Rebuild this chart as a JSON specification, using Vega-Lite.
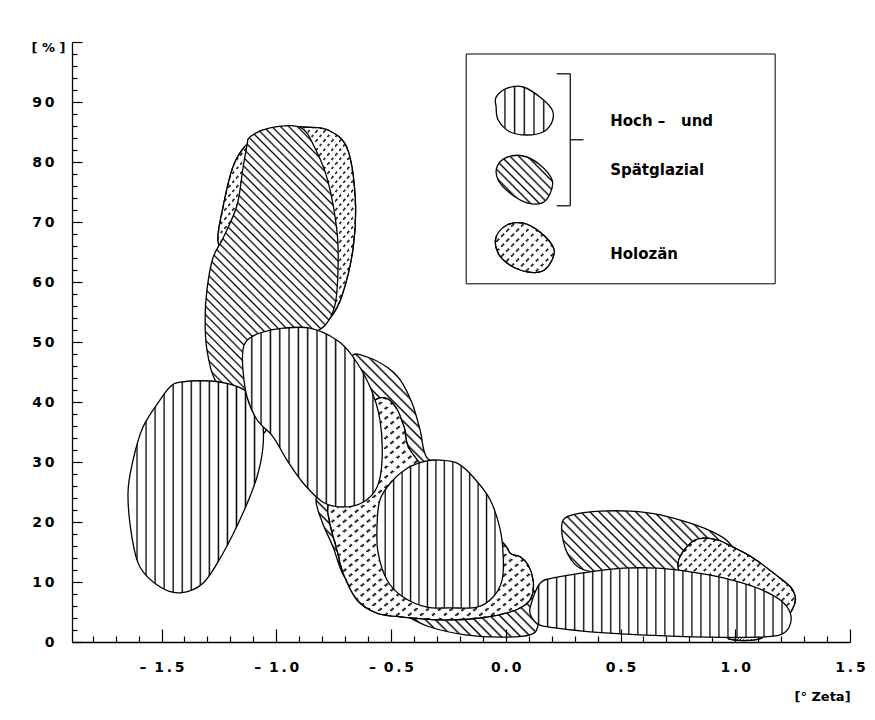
{
"$schema": "https://vega.github.io/schema/vega-lite/v6.json",
"width": 778, "height": 600,
"autosize": {"type": "none"},
"padding": {"left": 72, "top": 42, "right": 25, "bottom": 78},
"background": "white",
"config": {"view": {"stroke": null}, "axis": {"grid": false, "labelFont": "DejaVu Sans", "labelFontWeight": "bold", "labelColor": "#000", "labelFontSize": 14, "domainColor": "#000", "tickColor": "#000", "titleFont": "DejaVu Sans", "titleFontWeight": "bold", "titleColor": "#000", "titleFontSize": 13}},
"datasets": {
"poly": [
{"id":"H1","i":0,"x":-1.193,"y":78.7},{"id":"H1","i":1,"x":-1.149,"y":82.0},{"id":"H1","i":2,"x":-1.092,"y":84.0},{"id":"H1","i":3,"x":-0.983,"y":85.8},{"id":"H1","i":4,"x":-0.874,"y":85.8},{"id":"H1","i":5,"x":-0.774,"y":85.3},{"id":"H1","i":6,"x":-0.691,"y":82.3},{"id":"H1","i":7,"x":-0.656,"y":74.0},{"id":"H1","i":8,"x":-0.665,"y":65.7},{"id":"H1","i":9,"x":-0.713,"y":57.8},{"id":"H1","i":10,"x":-0.765,"y":54.0},{"id":"H1","i":11,"x":-0.831,"y":52.0},{"id":"H1","i":12,"x":-0.940,"y":52.0},{"id":"H1","i":13,"x":-1.114,"y":58.7},{"id":"H1","i":14,"x":-1.223,"y":63.3},{"id":"H1","i":15,"x":-1.254,"y":67.0},{"id":"H1","i":16,"x":-1.236,"y":71.7},
{"id":"P1","i":0,"x":-1.114,"y":84.2},{"id":"P1","i":1,"x":-1.027,"y":85.7},{"id":"P1","i":2,"x":-0.896,"y":85.8},{"id":"P1","i":3,"x":-0.831,"y":82.3},{"id":"P1","i":4,"x":-0.774,"y":76.7},{"id":"P1","i":5,"x":-0.735,"y":68.3},{"id":"P1","i":6,"x":-0.731,"y":61.7},{"id":"P1","i":7,"x":-0.744,"y":56.2},{"id":"P1","i":8,"x":-0.787,"y":52.8},{"id":"P1","i":9,"x":-0.896,"y":49.5},{"id":"P1","i":10,"x":-1.005,"y":40.3},{"id":"P1","i":11,"x":-1.049,"y":35.0},{"id":"P1","i":12,"x":-1.092,"y":36.2},{"id":"P1","i":13,"x":-1.180,"y":40.3},{"id":"P1","i":14,"x":-1.267,"y":43.7},{"id":"P1","i":15,"x":-1.302,"y":48.7},{"id":"P1","i":16,"x":-1.310,"y":53.7},{"id":"P1","i":17,"x":-1.302,"y":58.7},{"id":"P1","i":18,"x":-1.276,"y":64.0},{"id":"P1","i":19,"x":-1.232,"y":67.3},{"id":"P1","i":20,"x":-1.171,"y":72.8},{"id":"P1","i":21,"x":-1.145,"y":79.0},{"id":"P1","i":22,"x":-1.127,"y":82.8},
{"id":"P2","i":0,"x":-0.670,"y":47.7},{"id":"P2","i":1,"x":-0.604,"y":47.5},{"id":"P2","i":2,"x":-0.517,"y":45.8},{"id":"P2","i":3,"x":-0.460,"y":43.7},{"id":"P2","i":4,"x":-0.408,"y":39.8},{"id":"P2","i":5,"x":-0.373,"y":35.3},{"id":"P2","i":6,"x":-0.343,"y":30.7},{"id":"P2","i":7,"x":-0.242,"y":28.7},{"id":"P2","i":8,"x":-0.111,"y":18.7},{"id":"P2","i":9,"x":0.041,"y":12.0},{"id":"P2","i":10,"x":0.150,"y":7.0},{"id":"P2","i":11,"x":0.141,"y":2.8},{"id":"P2","i":12,"x":0.106,"y":1.2},{"id":"P2","i":13,"x":-0.024,"y":0.8},{"id":"P2","i":14,"x":-0.177,"y":1.2},{"id":"P2","i":15,"x":-0.330,"y":2.5},{"id":"P2","i":16,"x":-0.439,"y":4.5},{"id":"P2","i":17,"x":-0.591,"y":7.8},{"id":"P2","i":18,"x":-0.700,"y":10.7},{"id":"P2","i":19,"x":-0.752,"y":15.8},{"id":"P2","i":20,"x":-0.800,"y":20.0},{"id":"P2","i":21,"x":-0.827,"y":23.7},{"id":"P2","i":22,"x":-0.800,"y":27.3},{"id":"P2","i":23,"x":-0.722,"y":37.0},{"id":"P2","i":24,"x":-0.687,"y":43.7},
{"id":"H2","i":0,"x":-0.582,"y":39.5},{"id":"H2","i":1,"x":-0.526,"y":40.7},{"id":"H2","i":2,"x":-0.477,"y":39.0},{"id":"H2","i":3,"x":-0.442,"y":35.7},{"id":"H2","i":4,"x":-0.417,"y":32.0},{"id":"H2","i":5,"x":-0.286,"y":26.2},{"id":"H2","i":6,"x":-0.024,"y":17.0},{"id":"H2","i":7,"x":0.019,"y":14.8},{"id":"H2","i":8,"x":0.063,"y":14.2},{"id":"H2","i":9,"x":0.098,"y":12.8},{"id":"H2","i":10,"x":0.119,"y":10.3},{"id":"H2","i":11,"x":0.115,"y":7.8},{"id":"H2","i":12,"x":0.085,"y":6.2},{"id":"H2","i":13,"x":0.019,"y":5.0},{"id":"H2","i":14,"x":-0.112,"y":4.0},{"id":"H2","i":15,"x":-0.286,"y":3.7},{"id":"H2","i":16,"x":-0.460,"y":4.2},{"id":"H2","i":17,"x":-0.561,"y":4.8},{"id":"H2","i":18,"x":-0.648,"y":7.0},{"id":"H2","i":19,"x":-0.709,"y":11.5},{"id":"H2","i":20,"x":-0.735,"y":15.3},{"id":"H2","i":21,"x":-0.765,"y":19.5},{"id":"H2","i":22,"x":-0.774,"y":22.8},{"id":"H2","i":23,"x":-0.722,"y":23.7},{"id":"H2","i":24,"x":-0.635,"y":27.0},{"id":"H2","i":25,"x":-0.582,"y":33.7},
{"id":"P4","i":0,"x":0.250,"y":20.3},{"id":"P4","i":1,"x":0.303,"y":21.3},{"id":"P4","i":2,"x":0.412,"y":21.8},{"id":"P4","i":3,"x":0.542,"y":21.8},{"id":"P4","i":4,"x":0.673,"y":21.2},{"id":"P4","i":5,"x":0.804,"y":19.8},{"id":"P4","i":6,"x":0.904,"y":18.3},{"id":"P4","i":7,"x":0.969,"y":16.7},{"id":"P4","i":8,"x":1.000,"y":14.5},{"id":"P4","i":9,"x":0.935,"y":12.3},{"id":"P4","i":10,"x":0.804,"y":11.2},{"id":"P4","i":11,"x":0.586,"y":11.2},{"id":"P4","i":12,"x":0.412,"y":11.5},{"id":"P4","i":13,"x":0.324,"y":12.3},{"id":"P4","i":14,"x":0.272,"y":14.5},{"id":"P4","i":15,"x":0.246,"y":17.8},
{"id":"H3","i":0,"x":0.813,"y":16.7},{"id":"H3","i":1,"x":0.861,"y":17.3},{"id":"H3","i":2,"x":0.922,"y":17.0},{"id":"H3","i":3,"x":0.991,"y":15.8},{"id":"H3","i":4,"x":1.078,"y":14.0},{"id":"H3","i":5,"x":1.166,"y":11.5},{"id":"H3","i":6,"x":1.240,"y":9.2},{"id":"H3","i":7,"x":1.262,"y":7.3},{"id":"H3","i":8,"x":1.253,"y":5.8},{"id":"H3","i":9,"x":1.227,"y":4.5},{"id":"H3","i":10,"x":1.153,"y":4.5},{"id":"H3","i":11,"x":0.935,"y":7.0},{"id":"H3","i":12,"x":0.782,"y":10.3},{"id":"H3","i":13,"x":0.752,"y":12.3},{"id":"H3","i":14,"x":0.760,"y":14.3},
{"id":"HS","i":0,"x":0.970,"y":0.7},{"id":"HS","i":1,"x":1.044,"y":1.3},{"id":"HS","i":2,"x":1.118,"y":0.8},{"id":"HS","i":3,"x":1.074,"y":0.3},{"id":"HS","i":4,"x":1.000,"y":0.3},
{"id":"V1","i":0,"x":-1.419,"y":43.3},{"id":"V1","i":1,"x":-1.289,"y":43.5},{"id":"V1","i":2,"x":-1.188,"y":42.8},{"id":"V1","i":3,"x":-1.114,"y":41.2},{"id":"V1","i":4,"x":-1.062,"y":37.0},{"id":"V1","i":5,"x":-1.058,"y":32.5},{"id":"V1","i":6,"x":-1.084,"y":27.5},{"id":"V1","i":7,"x":-1.145,"y":21.5},{"id":"V1","i":8,"x":-1.232,"y":14.8},{"id":"V1","i":9,"x":-1.319,"y":9.8},{"id":"V1","i":10,"x":-1.419,"y":8.2},{"id":"V1","i":11,"x":-1.507,"y":9.2},{"id":"V1","i":12,"x":-1.594,"y":12.5},{"id":"V1","i":13,"x":-1.629,"y":17.5},{"id":"V1","i":14,"x":-1.646,"y":24.8},{"id":"V1","i":15,"x":-1.624,"y":30.3},{"id":"V1","i":16,"x":-1.581,"y":35.8},{"id":"V1","i":17,"x":-1.507,"y":40.3},{"id":"V1","i":18,"x":-1.463,"y":42.5},
{"id":"V2","i":0,"x":-1.145,"y":48.7},{"id":"V2","i":1,"x":-1.127,"y":50.3},{"id":"V2","i":2,"x":-1.071,"y":51.5},{"id":"V2","i":3,"x":-0.970,"y":52.3},{"id":"V2","i":4,"x":-0.853,"y":52.3},{"id":"V2","i":5,"x":-0.735,"y":50.3},{"id":"V2","i":6,"x":-0.665,"y":47.5},{"id":"V2","i":7,"x":-0.591,"y":42.5},{"id":"V2","i":8,"x":-0.548,"y":37.0},{"id":"V2","i":9,"x":-0.539,"y":30.3},{"id":"V2","i":10,"x":-0.561,"y":25.8},{"id":"V2","i":11,"x":-0.622,"y":23.3},{"id":"V2","i":12,"x":-0.709,"y":22.5},{"id":"V2","i":13,"x":-0.796,"y":23.3},{"id":"V2","i":14,"x":-0.883,"y":26.5},{"id":"V2","i":15,"x":-0.953,"y":30.3},{"id":"V2","i":16,"x":-1.014,"y":34.2},{"id":"V2","i":17,"x":-1.083,"y":37.0},{"id":"V2","i":18,"x":-1.127,"y":40.8},{"id":"V2","i":19,"x":-1.145,"y":45.3},
{"id":"V3","i":0,"x":-0.286,"y":30.3},{"id":"V3","i":1,"x":-0.212,"y":29.8},{"id":"V3","i":2,"x":-0.142,"y":27.5},{"id":"V3","i":3,"x":-0.068,"y":23.7},{"id":"V3","i":4,"x":-0.024,"y":18.7},{"id":"V3","i":5,"x":-0.011,"y":14.2},{"id":"V3","i":6,"x":-0.016,"y":10.3},{"id":"V3","i":7,"x":-0.055,"y":7.5},{"id":"V3","i":8,"x":-0.125,"y":5.8},{"id":"V3","i":9,"x":-0.242,"y":5.7},{"id":"V3","i":10,"x":-0.343,"y":5.8},{"id":"V3","i":11,"x":-0.447,"y":7.5},{"id":"V3","i":12,"x":-0.517,"y":10.3},{"id":"V3","i":13,"x":-0.556,"y":14.8},{"id":"V3","i":14,"x":-0.561,"y":19.2},{"id":"V3","i":15,"x":-0.548,"y":23.7},{"id":"V3","i":16,"x":-0.491,"y":27.0},{"id":"V3","i":17,"x":-0.417,"y":29.2},{"id":"V3","i":18,"x":-0.343,"y":30.2},
{"id":"V4","i":0,"x":0.106,"y":5.7},{"id":"V4","i":1,"x":0.150,"y":9.8},{"id":"V4","i":2,"x":0.224,"y":10.8},{"id":"V4","i":3,"x":0.368,"y":11.7},{"id":"V4","i":4,"x":0.512,"y":12.3},{"id":"V4","i":5,"x":0.660,"y":12.3},{"id":"V4","i":6,"x":0.804,"y":11.7},{"id":"V4","i":7,"x":0.948,"y":10.7},{"id":"V4","i":8,"x":1.096,"y":9.0},{"id":"V4","i":9,"x":1.196,"y":7.0},{"id":"V4","i":10,"x":1.240,"y":4.8},{"id":"V4","i":11,"x":1.235,"y":2.5},{"id":"V4","i":12,"x":1.196,"y":1.2},{"id":"V4","i":13,"x":1.096,"y":0.8},{"id":"V4","i":14,"x":0.878,"y":0.8},{"id":"V4","i":15,"x":0.586,"y":1.2},{"id":"V4","i":16,"x":0.368,"y":1.7},{"id":"V4","i":17,"x":0.224,"y":2.3},{"id":"V4","i":18,"x":0.150,"y":2.8},{"id":"V4","i":19,"x":0.115,"y":4.0},
{"id":"LV","i":0,"x":-0.042,"y":90.8},{"id":"LV","i":1,"x":0.006,"y":92.3},{"id":"LV","i":2,"x":0.076,"y":92.5},{"id":"LV","i":3,"x":0.150,"y":90.8},{"id":"LV","i":4,"x":0.202,"y":88.7},{"id":"LV","i":5,"x":0.202,"y":86.7},{"id":"LV","i":6,"x":0.163,"y":85.0},{"id":"LV","i":7,"x":0.093,"y":84.5},{"id":"LV","i":8,"x":0.019,"y":85.0},{"id":"LV","i":9,"x":-0.033,"y":87.0},{"id":"LV","i":10,"x":-0.042,"y":89.2},
{"id":"LD","i":0,"x":-0.038,"y":79.2},{"id":"LD","i":1,"x":0.006,"y":80.8},{"id":"LD","i":2,"x":0.076,"y":81.0},{"id":"LD","i":3,"x":0.150,"y":79.5},{"id":"LD","i":4,"x":0.202,"y":77.0},{"id":"LD","i":5,"x":0.194,"y":74.8},{"id":"LD","i":6,"x":0.159,"y":73.2},{"id":"LD","i":7,"x":0.093,"y":73.2},{"id":"LD","i":8,"x":0.019,"y":74.8},{"id":"LD","i":9,"x":-0.033,"y":77.0},
{"id":"LH","i":0,"x":-0.042,"y":67.5},{"id":"LH","i":1,"x":0.006,"y":69.5},{"id":"LH","i":2,"x":0.076,"y":69.8},{"id":"LH","i":3,"x":0.150,"y":68.3},{"id":"LH","i":4,"x":0.207,"y":65.8},{"id":"LH","i":5,"x":0.202,"y":63.7},{"id":"LH","i":6,"x":0.159,"y":61.8},{"id":"LH","i":7,"x":0.093,"y":61.7},{"id":"LH","i":8,"x":0.019,"y":62.8},{"id":"LH","i":9,"x":-0.033,"y":64.8}
],
"box": [{"x":-0.1725,"x2":1.174,"y":98.0,"y2":59.7}],
"seg": [{"x":0.222,"y":94.7,"x2":0.281,"y2":94.7},{"x":0.281,"y":94.7,"x2":0.281,"y2":72.7},{"x":0.222,"y":72.7,"x2":0.281,"y2":72.7},{"x":0.281,"y":83.7,"x2":0.339,"y2":83.7}],
"txt": [{"x":0.455,"y":86.0,"t":"Hoch –\u00a0\u00a0\u00a0und"},{"x":0.455,"y":77.8,"t":"Spätglazial"},{"x":0.455,"y":63.8,"t":"Holozän"}]
},
"encoding": {
"x": {"field":"x","type":"quantitative","scale":{"domain":[-1.89,1.5],"nice":false,"zero":false},"axis":null},
"y": {"field":"y","type":"quantitative","scale":{"domain":[0,100],"nice":false,"zero":false},"axis":null}
},
"layer": [
{"data":{"name":"box"},
 "mark":{"type":"rect","fill":"#fff","stroke":"#000","strokeWidth":1},
 "encoding":{"x2":{"field":"x2"},"y2":{"field":"y2"}}},
{"data":{"name":"poly"},"transform":[{"filter":"datum.id == 'P2'"}],
 "mark":{"type":"line","interpolate":"cardinal-closed","stroke":"#000","strokeWidth":1.3,"fill":{"gradient":"linear","x1":0,"y1":1,"x2":0.876,"y2":-0.098,"stops":[
{"offset":0,"color":"#fff"},
{"offset":0.0152,"color":"#fff"},{"offset":0.0192,"color":"#000"},{"offset":0.0232,"color":"#fff"},
{"offset":0.0345,"color":"#fff"},{"offset":0.0385,"color":"#000"},{"offset":0.0425,"color":"#fff"},
{"offset":0.0537,"color":"#fff"},{"offset":0.0577,"color":"#000"},{"offset":0.0617,"color":"#fff"},
{"offset":0.0729,"color":"#fff"},{"offset":0.0769,"color":"#000"},{"offset":0.0809,"color":"#fff"},
{"offset":0.0922,"color":"#fff"},{"offset":0.0962,"color":"#000"},{"offset":0.1002,"color":"#fff"},
{"offset":0.1114,"color":"#fff"},{"offset":0.1154,"color":"#000"},{"offset":0.1194,"color":"#fff"},
{"offset":0.1306,"color":"#fff"},{"offset":0.1346,"color":"#000"},{"offset":0.1386,"color":"#fff"},
{"offset":0.1498,"color":"#fff"},{"offset":0.1538,"color":"#000"},{"offset":0.1578,"color":"#fff"},
{"offset":0.1691,"color":"#fff"},{"offset":0.1731,"color":"#000"},{"offset":0.1771,"color":"#fff"},
{"offset":0.1883,"color":"#fff"},{"offset":0.1923,"color":"#000"},{"offset":0.1963,"color":"#fff"},
{"offset":0.2075,"color":"#fff"},{"offset":0.2115,"color":"#000"},{"offset":0.2155,"color":"#fff"},
{"offset":0.2268,"color":"#fff"},{"offset":0.2308,"color":"#000"},{"offset":0.2348,"color":"#fff"},
{"offset":0.246,"color":"#fff"},{"offset":0.25,"color":"#000"},{"offset":0.254,"color":"#fff"},
{"offset":0.2652,"color":"#fff"},{"offset":0.2692,"color":"#000"},{"offset":0.2732,"color":"#fff"},
{"offset":0.2845,"color":"#fff"},{"offset":0.2885,"color":"#000"},{"offset":0.2925,"color":"#fff"},
{"offset":0.3037,"color":"#fff"},{"offset":0.3077,"color":"#000"},{"offset":0.3117,"color":"#fff"},
{"offset":0.3229,"color":"#fff"},{"offset":0.3269,"color":"#000"},{"offset":0.3309,"color":"#fff"},
{"offset":0.3422,"color":"#fff"},{"offset":0.3462,"color":"#000"},{"offset":0.3502,"color":"#fff"},
{"offset":0.3614,"color":"#fff"},{"offset":0.3654,"color":"#000"},{"offset":0.3694,"color":"#fff"},
{"offset":0.3806,"color":"#fff"},{"offset":0.3846,"color":"#000"},{"offset":0.3886,"color":"#fff"},
{"offset":0.3998,"color":"#fff"},{"offset":0.4038,"color":"#000"},{"offset":0.4078,"color":"#fff"},
{"offset":0.4191,"color":"#fff"},{"offset":0.4231,"color":"#000"},{"offset":0.4271,"color":"#fff"},
{"offset":0.4383,"color":"#fff"},{"offset":0.4423,"color":"#000"},{"offset":0.4463,"color":"#fff"},
{"offset":0.4575,"color":"#fff"},{"offset":0.4615,"color":"#000"},{"offset":0.4655,"color":"#fff"},
{"offset":0.4768,"color":"#fff"},{"offset":0.4808,"color":"#000"},{"offset":0.4848,"color":"#fff"},
{"offset":0.496,"color":"#fff"},{"offset":0.5,"color":"#000"},{"offset":0.504,"color":"#fff"},
{"offset":0.5152,"color":"#fff"},{"offset":0.5192,"color":"#000"},{"offset":0.5232,"color":"#fff"},
{"offset":0.5345,"color":"#fff"},{"offset":0.5385,"color":"#000"},{"offset":0.5425,"color":"#fff"},
{"offset":0.5537,"color":"#fff"},{"offset":0.5577,"color":"#000"},{"offset":0.5617,"color":"#fff"},
{"offset":0.5729,"color":"#fff"},{"offset":0.5769,"color":"#000"},{"offset":0.5809,"color":"#fff"},
{"offset":0.5922,"color":"#fff"},{"offset":0.5962,"color":"#000"},{"offset":0.6002,"color":"#fff"},
{"offset":0.6114,"color":"#fff"},{"offset":0.6154,"color":"#000"},{"offset":0.6194,"color":"#fff"},
{"offset":0.6306,"color":"#fff"},{"offset":0.6346,"color":"#000"},{"offset":0.6386,"color":"#fff"},
{"offset":0.6498,"color":"#fff"},{"offset":0.6538,"color":"#000"},{"offset":0.6578,"color":"#fff"},
{"offset":0.6691,"color":"#fff"},{"offset":0.6731,"color":"#000"},{"offset":0.6771,"color":"#fff"},
{"offset":0.6883,"color":"#fff"},{"offset":0.6923,"color":"#000"},{"offset":0.6963,"color":"#fff"},
{"offset":0.7075,"color":"#fff"},{"offset":0.7115,"color":"#000"},{"offset":0.7155,"color":"#fff"},
{"offset":0.7268,"color":"#fff"},{"offset":0.7308,"color":"#000"},{"offset":0.7348,"color":"#fff"},
{"offset":0.746,"color":"#fff"},{"offset":0.75,"color":"#000"},{"offset":0.754,"color":"#fff"},
{"offset":0.7652,"color":"#fff"},{"offset":0.7692,"color":"#000"},{"offset":0.7732,"color":"#fff"},
{"offset":0.7845,"color":"#fff"},{"offset":0.7885,"color":"#000"},{"offset":0.7925,"color":"#fff"},
{"offset":0.8037,"color":"#fff"},{"offset":0.8077,"color":"#000"},{"offset":0.8117,"color":"#fff"},
{"offset":0.8229,"color":"#fff"},{"offset":0.8269,"color":"#000"},{"offset":0.8309,"color":"#fff"},
{"offset":0.8422,"color":"#fff"},{"offset":0.8462,"color":"#000"},{"offset":0.8502,"color":"#fff"},
{"offset":0.8614,"color":"#fff"},{"offset":0.8654,"color":"#000"},{"offset":0.8694,"color":"#fff"},
{"offset":0.8806,"color":"#fff"},{"offset":0.8846,"color":"#000"},{"offset":0.8886,"color":"#fff"},
{"offset":0.8998,"color":"#fff"},{"offset":0.9038,"color":"#000"},{"offset":0.9078,"color":"#fff"},
{"offset":0.9191,"color":"#fff"},{"offset":0.9231,"color":"#000"},{"offset":0.9271,"color":"#fff"},
{"offset":0.9383,"color":"#fff"},{"offset":0.9423,"color":"#000"},{"offset":0.9463,"color":"#fff"},
{"offset":0.9575,"color":"#fff"},{"offset":0.9615,"color":"#000"},{"offset":0.9655,"color":"#fff"},
{"offset":0.9768,"color":"#fff"},{"offset":0.9808,"color":"#000"},{"offset":0.9848,"color":"#fff"},
{"offset":1,"color":"#fff"}]}},
 "encoding":{
  "x":{"field":"x","type":"quantitative","scale":{"domain":[-1.89,1.5],"nice":false,"zero":false},"axis":{"orient":"bottom","values":[-1.5,-1,-0.5,0,0.5,1,1.5],"ticks":false,"domain":true,"domainWidth":1.3,"labelPadding":18,"labelFlush":false,"labelOverlap":false,"labelExpr":"(datum.value < 0 ? '–\u2009 ' : '') + slice(format(abs(datum.value), '.1f'), 0, 1) + '\u2009.\u2009' + slice(format(abs(datum.value), '.1f'), 2)","title":"[° Zeta]","titleX":750,"titleY":54,"titleAlign":"center","titleBaseline":"middle","zindex":1}},
  "y":{"field":"y","type":"quantitative","scale":{"domain":[0,100],"nice":false,"zero":false},"axis":{"orient":"left","values":[0,10,20,30,40,50,60,70,80,90],"ticks":false,"domain":true,"domainWidth":1.3,"labelPadding":18,"labelFlush":false,"labelOverlap":false,"labelExpr":"length(datum.label) > 1 ? slice(datum.label, 0, 1) + '\u2009' + slice(datum.label, 1) : datum.label","title":"[ % ]","titleAngle":0,"titleX":-24,"titleY":5,"titleAlign":"center","titleBaseline":"middle","zindex":1}},
  "order":{"field":"i","type":"quantitative"}}},
{"data":{"name":"poly"},"transform":[{"filter":"datum.id == 'H1' || datum.id == 'H2'"}],
 "mark":{"type":"line","interpolate":"cardinal-closed","stroke":"#000","strokeWidth":1.3,"fill":{"gradient":"linear","x1":0,"y1":0,"x2":0.855,"y2":1.112,"stops":[
{"offset":0,"color":"#fff"},
{"offset":0.019,"color":"#fff"},{"offset":0.025,"color":"#000"},{"offset":0.031,"color":"#fff"},
{"offset":0.044,"color":"#fff"},{"offset":0.05,"color":"#000"},{"offset":0.056,"color":"#fff"},
{"offset":0.069,"color":"#fff"},{"offset":0.075,"color":"#000"},{"offset":0.081,"color":"#fff"},
{"offset":0.094,"color":"#fff"},{"offset":0.1,"color":"#000"},{"offset":0.106,"color":"#fff"},
{"offset":0.119,"color":"#fff"},{"offset":0.125,"color":"#000"},{"offset":0.131,"color":"#fff"},
{"offset":0.144,"color":"#fff"},{"offset":0.15,"color":"#000"},{"offset":0.156,"color":"#fff"},
{"offset":0.169,"color":"#fff"},{"offset":0.175,"color":"#000"},{"offset":0.181,"color":"#fff"},
{"offset":0.194,"color":"#fff"},{"offset":0.2,"color":"#000"},{"offset":0.206,"color":"#fff"},
{"offset":0.219,"color":"#fff"},{"offset":0.225,"color":"#000"},{"offset":0.231,"color":"#fff"},
{"offset":0.244,"color":"#fff"},{"offset":0.25,"color":"#000"},{"offset":0.256,"color":"#fff"},
{"offset":0.269,"color":"#fff"},{"offset":0.275,"color":"#000"},{"offset":0.281,"color":"#fff"},
{"offset":0.294,"color":"#fff"},{"offset":0.3,"color":"#000"},{"offset":0.306,"color":"#fff"},
{"offset":0.319,"color":"#fff"},{"offset":0.325,"color":"#000"},{"offset":0.331,"color":"#fff"},
{"offset":0.344,"color":"#fff"},{"offset":0.35,"color":"#000"},{"offset":0.356,"color":"#fff"},
{"offset":0.369,"color":"#fff"},{"offset":0.375,"color":"#000"},{"offset":0.381,"color":"#fff"},
{"offset":0.394,"color":"#fff"},{"offset":0.4,"color":"#000"},{"offset":0.406,"color":"#fff"},
{"offset":0.419,"color":"#fff"},{"offset":0.425,"color":"#000"},{"offset":0.431,"color":"#fff"},
{"offset":0.444,"color":"#fff"},{"offset":0.45,"color":"#000"},{"offset":0.456,"color":"#fff"},
{"offset":0.469,"color":"#fff"},{"offset":0.475,"color":"#000"},{"offset":0.481,"color":"#fff"},
{"offset":0.494,"color":"#fff"},{"offset":0.5,"color":"#000"},{"offset":0.506,"color":"#fff"},
{"offset":0.519,"color":"#fff"},{"offset":0.525,"color":"#000"},{"offset":0.531,"color":"#fff"},
{"offset":0.544,"color":"#fff"},{"offset":0.55,"color":"#000"},{"offset":0.556,"color":"#fff"},
{"offset":0.569,"color":"#fff"},{"offset":0.575,"color":"#000"},{"offset":0.581,"color":"#fff"},
{"offset":0.594,"color":"#fff"},{"offset":0.6,"color":"#000"},{"offset":0.606,"color":"#fff"},
{"offset":0.619,"color":"#fff"},{"offset":0.625,"color":"#000"},{"offset":0.631,"color":"#fff"},
{"offset":0.644,"color":"#fff"},{"offset":0.65,"color":"#000"},{"offset":0.656,"color":"#fff"},
{"offset":0.669,"color":"#fff"},{"offset":0.675,"color":"#000"},{"offset":0.681,"color":"#fff"},
{"offset":0.694,"color":"#fff"},{"offset":0.7,"color":"#000"},{"offset":0.706,"color":"#fff"},
{"offset":0.719,"color":"#fff"},{"offset":0.725,"color":"#000"},{"offset":0.731,"color":"#fff"},
{"offset":0.744,"color":"#fff"},{"offset":0.75,"color":"#000"},{"offset":0.756,"color":"#fff"},
{"offset":0.769,"color":"#fff"},{"offset":0.775,"color":"#000"},{"offset":0.781,"color":"#fff"},
{"offset":0.794,"color":"#fff"},{"offset":0.8,"color":"#000"},{"offset":0.806,"color":"#fff"},
{"offset":0.819,"color":"#fff"},{"offset":0.825,"color":"#000"},{"offset":0.831,"color":"#fff"},
{"offset":0.844,"color":"#fff"},{"offset":0.85,"color":"#000"},{"offset":0.856,"color":"#fff"},
{"offset":0.869,"color":"#fff"},{"offset":0.875,"color":"#000"},{"offset":0.881,"color":"#fff"},
{"offset":0.894,"color":"#fff"},{"offset":0.9,"color":"#000"},{"offset":0.906,"color":"#fff"},
{"offset":0.919,"color":"#fff"},{"offset":0.925,"color":"#000"},{"offset":0.931,"color":"#fff"},
{"offset":0.944,"color":"#fff"},{"offset":0.95,"color":"#000"},{"offset":0.956,"color":"#fff"},
{"offset":0.969,"color":"#fff"},{"offset":0.975,"color":"#000"},{"offset":0.981,"color":"#fff"},
{"offset":1,"color":"#fff"}]}},
 "encoding":{"detail":{"field":"id"},"order":{"field":"i","type":"quantitative"}}},
{"data":{"name":"poly"},"transform":[{"filter":"datum.id == 'H1' || datum.id == 'H2'"}],
 "mark":{"type":"line","interpolate":"cardinal-closed","stroke":"#000","strokeWidth":1.3,"fill":{"gradient":"linear","x1":0,"y1":1,"x2":0.855,"y2":-0.112,"stops":[
{"offset":0,"color":"rgba(255,255,255,0)"},
{"offset":0.019,"color":"rgba(255,255,255,0)"},{"offset":0.019,"color":"#fff"},{"offset":0.031,"color":"#fff"},{"offset":0.031,"color":"rgba(255,255,255,0)"},
{"offset":0.044,"color":"rgba(255,255,255,0)"},{"offset":0.044,"color":"#fff"},{"offset":0.056,"color":"#fff"},{"offset":0.056,"color":"rgba(255,255,255,0)"},
{"offset":0.069,"color":"rgba(255,255,255,0)"},{"offset":0.069,"color":"#fff"},{"offset":0.081,"color":"#fff"},{"offset":0.081,"color":"rgba(255,255,255,0)"},
{"offset":0.094,"color":"rgba(255,255,255,0)"},{"offset":0.094,"color":"#fff"},{"offset":0.106,"color":"#fff"},{"offset":0.106,"color":"rgba(255,255,255,0)"},
{"offset":0.119,"color":"rgba(255,255,255,0)"},{"offset":0.119,"color":"#fff"},{"offset":0.131,"color":"#fff"},{"offset":0.131,"color":"rgba(255,255,255,0)"},
{"offset":0.144,"color":"rgba(255,255,255,0)"},{"offset":0.144,"color":"#fff"},{"offset":0.156,"color":"#fff"},{"offset":0.156,"color":"rgba(255,255,255,0)"},
{"offset":0.169,"color":"rgba(255,255,255,0)"},{"offset":0.169,"color":"#fff"},{"offset":0.181,"color":"#fff"},{"offset":0.181,"color":"rgba(255,255,255,0)"},
{"offset":0.194,"color":"rgba(255,255,255,0)"},{"offset":0.194,"color":"#fff"},{"offset":0.206,"color":"#fff"},{"offset":0.206,"color":"rgba(255,255,255,0)"},
{"offset":0.219,"color":"rgba(255,255,255,0)"},{"offset":0.219,"color":"#fff"},{"offset":0.231,"color":"#fff"},{"offset":0.231,"color":"rgba(255,255,255,0)"},
{"offset":0.244,"color":"rgba(255,255,255,0)"},{"offset":0.244,"color":"#fff"},{"offset":0.256,"color":"#fff"},{"offset":0.256,"color":"rgba(255,255,255,0)"},
{"offset":0.269,"color":"rgba(255,255,255,0)"},{"offset":0.269,"color":"#fff"},{"offset":0.281,"color":"#fff"},{"offset":0.281,"color":"rgba(255,255,255,0)"},
{"offset":0.294,"color":"rgba(255,255,255,0)"},{"offset":0.294,"color":"#fff"},{"offset":0.306,"color":"#fff"},{"offset":0.306,"color":"rgba(255,255,255,0)"},
{"offset":0.319,"color":"rgba(255,255,255,0)"},{"offset":0.319,"color":"#fff"},{"offset":0.331,"color":"#fff"},{"offset":0.331,"color":"rgba(255,255,255,0)"},
{"offset":0.344,"color":"rgba(255,255,255,0)"},{"offset":0.344,"color":"#fff"},{"offset":0.356,"color":"#fff"},{"offset":0.356,"color":"rgba(255,255,255,0)"},
{"offset":0.369,"color":"rgba(255,255,255,0)"},{"offset":0.369,"color":"#fff"},{"offset":0.381,"color":"#fff"},{"offset":0.381,"color":"rgba(255,255,255,0)"},
{"offset":0.394,"color":"rgba(255,255,255,0)"},{"offset":0.394,"color":"#fff"},{"offset":0.406,"color":"#fff"},{"offset":0.406,"color":"rgba(255,255,255,0)"},
{"offset":0.419,"color":"rgba(255,255,255,0)"},{"offset":0.419,"color":"#fff"},{"offset":0.431,"color":"#fff"},{"offset":0.431,"color":"rgba(255,255,255,0)"},
{"offset":0.444,"color":"rgba(255,255,255,0)"},{"offset":0.444,"color":"#fff"},{"offset":0.456,"color":"#fff"},{"offset":0.456,"color":"rgba(255,255,255,0)"},
{"offset":0.469,"color":"rgba(255,255,255,0)"},{"offset":0.469,"color":"#fff"},{"offset":0.481,"color":"#fff"},{"offset":0.481,"color":"rgba(255,255,255,0)"},
{"offset":0.494,"color":"rgba(255,255,255,0)"},{"offset":0.494,"color":"#fff"},{"offset":0.506,"color":"#fff"},{"offset":0.506,"color":"rgba(255,255,255,0)"},
{"offset":0.519,"color":"rgba(255,255,255,0)"},{"offset":0.519,"color":"#fff"},{"offset":0.531,"color":"#fff"},{"offset":0.531,"color":"rgba(255,255,255,0)"},
{"offset":0.544,"color":"rgba(255,255,255,0)"},{"offset":0.544,"color":"#fff"},{"offset":0.556,"color":"#fff"},{"offset":0.556,"color":"rgba(255,255,255,0)"},
{"offset":0.569,"color":"rgba(255,255,255,0)"},{"offset":0.569,"color":"#fff"},{"offset":0.581,"color":"#fff"},{"offset":0.581,"color":"rgba(255,255,255,0)"},
{"offset":0.594,"color":"rgba(255,255,255,0)"},{"offset":0.594,"color":"#fff"},{"offset":0.606,"color":"#fff"},{"offset":0.606,"color":"rgba(255,255,255,0)"},
{"offset":0.619,"color":"rgba(255,255,255,0)"},{"offset":0.619,"color":"#fff"},{"offset":0.631,"color":"#fff"},{"offset":0.631,"color":"rgba(255,255,255,0)"},
{"offset":0.644,"color":"rgba(255,255,255,0)"},{"offset":0.644,"color":"#fff"},{"offset":0.656,"color":"#fff"},{"offset":0.656,"color":"rgba(255,255,255,0)"},
{"offset":0.669,"color":"rgba(255,255,255,0)"},{"offset":0.669,"color":"#fff"},{"offset":0.681,"color":"#fff"},{"offset":0.681,"color":"rgba(255,255,255,0)"},
{"offset":0.694,"color":"rgba(255,255,255,0)"},{"offset":0.694,"color":"#fff"},{"offset":0.706,"color":"#fff"},{"offset":0.706,"color":"rgba(255,255,255,0)"},
{"offset":0.719,"color":"rgba(255,255,255,0)"},{"offset":0.719,"color":"#fff"},{"offset":0.731,"color":"#fff"},{"offset":0.731,"color":"rgba(255,255,255,0)"},
{"offset":0.744,"color":"rgba(255,255,255,0)"},{"offset":0.744,"color":"#fff"},{"offset":0.756,"color":"#fff"},{"offset":0.756,"color":"rgba(255,255,255,0)"},
{"offset":0.769,"color":"rgba(255,255,255,0)"},{"offset":0.769,"color":"#fff"},{"offset":0.781,"color":"#fff"},{"offset":0.781,"color":"rgba(255,255,255,0)"},
{"offset":0.794,"color":"rgba(255,255,255,0)"},{"offset":0.794,"color":"#fff"},{"offset":0.806,"color":"#fff"},{"offset":0.806,"color":"rgba(255,255,255,0)"},
{"offset":0.819,"color":"rgba(255,255,255,0)"},{"offset":0.819,"color":"#fff"},{"offset":0.831,"color":"#fff"},{"offset":0.831,"color":"rgba(255,255,255,0)"},
{"offset":0.844,"color":"rgba(255,255,255,0)"},{"offset":0.844,"color":"#fff"},{"offset":0.856,"color":"#fff"},{"offset":0.856,"color":"rgba(255,255,255,0)"},
{"offset":0.869,"color":"rgba(255,255,255,0)"},{"offset":0.869,"color":"#fff"},{"offset":0.881,"color":"#fff"},{"offset":0.881,"color":"rgba(255,255,255,0)"},
{"offset":0.894,"color":"rgba(255,255,255,0)"},{"offset":0.894,"color":"#fff"},{"offset":0.906,"color":"#fff"},{"offset":0.906,"color":"rgba(255,255,255,0)"},
{"offset":0.919,"color":"rgba(255,255,255,0)"},{"offset":0.919,"color":"#fff"},{"offset":0.931,"color":"#fff"},{"offset":0.931,"color":"rgba(255,255,255,0)"},
{"offset":0.944,"color":"rgba(255,255,255,0)"},{"offset":0.944,"color":"#fff"},{"offset":0.956,"color":"#fff"},{"offset":0.956,"color":"rgba(255,255,255,0)"},
{"offset":0.969,"color":"rgba(255,255,255,0)"},{"offset":0.969,"color":"#fff"},{"offset":0.981,"color":"#fff"},{"offset":0.981,"color":"rgba(255,255,255,0)"},
{"offset":1,"color":"rgba(255,255,255,0)"}]}},
 "encoding":{"detail":{"field":"id"},"order":{"field":"i","type":"quantitative"}}},
{"data":{"name":"poly"},"transform":[{"filter":"datum.id == 'P1'"}],
 "mark":{"type":"line","interpolate":"cardinal-closed","stroke":"#000","strokeWidth":1.3,"fill":{"gradient":"linear","x1":0,"y1":1,"x2":0.526,"y2":-0.207,"stops":[
{"offset":0,"color":"#fff"},
{"offset":0.0152,"color":"#fff"},{"offset":0.0192,"color":"#000"},{"offset":0.0232,"color":"#fff"},
{"offset":0.0345,"color":"#fff"},{"offset":0.0385,"color":"#000"},{"offset":0.0425,"color":"#fff"},
{"offset":0.0537,"color":"#fff"},{"offset":0.0577,"color":"#000"},{"offset":0.0617,"color":"#fff"},
{"offset":0.0729,"color":"#fff"},{"offset":0.0769,"color":"#000"},{"offset":0.0809,"color":"#fff"},
{"offset":0.0922,"color":"#fff"},{"offset":0.0962,"color":"#000"},{"offset":0.1002,"color":"#fff"},
{"offset":0.1114,"color":"#fff"},{"offset":0.1154,"color":"#000"},{"offset":0.1194,"color":"#fff"},
{"offset":0.1306,"color":"#fff"},{"offset":0.1346,"color":"#000"},{"offset":0.1386,"color":"#fff"},
{"offset":0.1498,"color":"#fff"},{"offset":0.1538,"color":"#000"},{"offset":0.1578,"color":"#fff"},
{"offset":0.1691,"color":"#fff"},{"offset":0.1731,"color":"#000"},{"offset":0.1771,"color":"#fff"},
{"offset":0.1883,"color":"#fff"},{"offset":0.1923,"color":"#000"},{"offset":0.1963,"color":"#fff"},
{"offset":0.2075,"color":"#fff"},{"offset":0.2115,"color":"#000"},{"offset":0.2155,"color":"#fff"},
{"offset":0.2268,"color":"#fff"},{"offset":0.2308,"color":"#000"},{"offset":0.2348,"color":"#fff"},
{"offset":0.246,"color":"#fff"},{"offset":0.25,"color":"#000"},{"offset":0.254,"color":"#fff"},
{"offset":0.2652,"color":"#fff"},{"offset":0.2692,"color":"#000"},{"offset":0.2732,"color":"#fff"},
{"offset":0.2845,"color":"#fff"},{"offset":0.2885,"color":"#000"},{"offset":0.2925,"color":"#fff"},
{"offset":0.3037,"color":"#fff"},{"offset":0.3077,"color":"#000"},{"offset":0.3117,"color":"#fff"},
{"offset":0.3229,"color":"#fff"},{"offset":0.3269,"color":"#000"},{"offset":0.3309,"color":"#fff"},
{"offset":0.3422,"color":"#fff"},{"offset":0.3462,"color":"#000"},{"offset":0.3502,"color":"#fff"},
{"offset":0.3614,"color":"#fff"},{"offset":0.3654,"color":"#000"},{"offset":0.3694,"color":"#fff"},
{"offset":0.3806,"color":"#fff"},{"offset":0.3846,"color":"#000"},{"offset":0.3886,"color":"#fff"},
{"offset":0.3998,"color":"#fff"},{"offset":0.4038,"color":"#000"},{"offset":0.4078,"color":"#fff"},
{"offset":0.4191,"color":"#fff"},{"offset":0.4231,"color":"#000"},{"offset":0.4271,"color":"#fff"},
{"offset":0.4383,"color":"#fff"},{"offset":0.4423,"color":"#000"},{"offset":0.4463,"color":"#fff"},
{"offset":0.4575,"color":"#fff"},{"offset":0.4615,"color":"#000"},{"offset":0.4655,"color":"#fff"},
{"offset":0.4768,"color":"#fff"},{"offset":0.4808,"color":"#000"},{"offset":0.4848,"color":"#fff"},
{"offset":0.496,"color":"#fff"},{"offset":0.5,"color":"#000"},{"offset":0.504,"color":"#fff"},
{"offset":0.5152,"color":"#fff"},{"offset":0.5192,"color":"#000"},{"offset":0.5232,"color":"#fff"},
{"offset":0.5345,"color":"#fff"},{"offset":0.5385,"color":"#000"},{"offset":0.5425,"color":"#fff"},
{"offset":0.5537,"color":"#fff"},{"offset":0.5577,"color":"#000"},{"offset":0.5617,"color":"#fff"},
{"offset":0.5729,"color":"#fff"},{"offset":0.5769,"color":"#000"},{"offset":0.5809,"color":"#fff"},
{"offset":0.5922,"color":"#fff"},{"offset":0.5962,"color":"#000"},{"offset":0.6002,"color":"#fff"},
{"offset":0.6114,"color":"#fff"},{"offset":0.6154,"color":"#000"},{"offset":0.6194,"color":"#fff"},
{"offset":0.6306,"color":"#fff"},{"offset":0.6346,"color":"#000"},{"offset":0.6386,"color":"#fff"},
{"offset":0.6498,"color":"#fff"},{"offset":0.6538,"color":"#000"},{"offset":0.6578,"color":"#fff"},
{"offset":0.6691,"color":"#fff"},{"offset":0.6731,"color":"#000"},{"offset":0.6771,"color":"#fff"},
{"offset":0.6883,"color":"#fff"},{"offset":0.6923,"color":"#000"},{"offset":0.6963,"color":"#fff"},
{"offset":0.7075,"color":"#fff"},{"offset":0.7115,"color":"#000"},{"offset":0.7155,"color":"#fff"},
{"offset":0.7268,"color":"#fff"},{"offset":0.7308,"color":"#000"},{"offset":0.7348,"color":"#fff"},
{"offset":0.746,"color":"#fff"},{"offset":0.75,"color":"#000"},{"offset":0.754,"color":"#fff"},
{"offset":0.7652,"color":"#fff"},{"offset":0.7692,"color":"#000"},{"offset":0.7732,"color":"#fff"},
{"offset":0.7845,"color":"#fff"},{"offset":0.7885,"color":"#000"},{"offset":0.7925,"color":"#fff"},
{"offset":0.8037,"color":"#fff"},{"offset":0.8077,"color":"#000"},{"offset":0.8117,"color":"#fff"},
{"offset":0.8229,"color":"#fff"},{"offset":0.8269,"color":"#000"},{"offset":0.8309,"color":"#fff"},
{"offset":0.8422,"color":"#fff"},{"offset":0.8462,"color":"#000"},{"offset":0.8502,"color":"#fff"},
{"offset":0.8614,"color":"#fff"},{"offset":0.8654,"color":"#000"},{"offset":0.8694,"color":"#fff"},
{"offset":0.8806,"color":"#fff"},{"offset":0.8846,"color":"#000"},{"offset":0.8886,"color":"#fff"},
{"offset":0.8998,"color":"#fff"},{"offset":0.9038,"color":"#000"},{"offset":0.9078,"color":"#fff"},
{"offset":0.9191,"color":"#fff"},{"offset":0.9231,"color":"#000"},{"offset":0.9271,"color":"#fff"},
{"offset":0.9383,"color":"#fff"},{"offset":0.9423,"color":"#000"},{"offset":0.9463,"color":"#fff"},
{"offset":0.9575,"color":"#fff"},{"offset":0.9615,"color":"#000"},{"offset":0.9655,"color":"#fff"},
{"offset":0.9768,"color":"#fff"},{"offset":0.9808,"color":"#000"},{"offset":0.9848,"color":"#fff"},
{"offset":1,"color":"#fff"}]}},
 "encoding":{
  "x":{"field":"x","type":"quantitative","scale":{"domain":[-1.89,1.5],"nice":false,"zero":false},"axis":{"orient":"bottom","values":[-1.5,-1,-0.5,0,0.5,1,1.5],"ticks":true,"tickSize":-13,"tickWidth":1.2,"labels":false,"domain":false,"title":null,"zindex":1}},
  "y":{"field":"y","type":"quantitative","scale":{"domain":[0,100],"nice":false,"zero":false},"axis":{"orient":"left","values":[0,10,20,30,40,50,60,70,80,90,100],"ticks":true,"tickSize":-10,"tickWidth":1.2,"labels":false,"domain":false,"title":null,"zindex":1}},
  "order":{"field":"i","type":"quantitative"}}},
{"data":{"name":"poly"},"transform":[{"filter":"datum.id == 'P4'"}],
 "mark":{"type":"line","interpolate":"cardinal-closed","stroke":"#000","strokeWidth":1.3,"fill":{"gradient":"linear","x1":0,"y1":1,"x2":1.205,"y2":0.554,"stops":[
{"offset":0,"color":"#fff"},
{"offset":0.0305,"color":"#fff"},{"offset":0.0385,"color":"#000"},{"offset":0.0465,"color":"#fff"},
{"offset":0.0689,"color":"#fff"},{"offset":0.0769,"color":"#000"},{"offset":0.0849,"color":"#fff"},
{"offset":0.1074,"color":"#fff"},{"offset":0.1154,"color":"#000"},{"offset":0.1234,"color":"#fff"},
{"offset":0.1458,"color":"#fff"},{"offset":0.1538,"color":"#000"},{"offset":0.1618,"color":"#fff"},
{"offset":0.1843,"color":"#fff"},{"offset":0.1923,"color":"#000"},{"offset":0.2003,"color":"#fff"},
{"offset":0.2228,"color":"#fff"},{"offset":0.2308,"color":"#000"},{"offset":0.2388,"color":"#fff"},
{"offset":0.2612,"color":"#fff"},{"offset":0.2692,"color":"#000"},{"offset":0.2772,"color":"#fff"},
{"offset":0.2997,"color":"#fff"},{"offset":0.3077,"color":"#000"},{"offset":0.3157,"color":"#fff"},
{"offset":0.3382,"color":"#fff"},{"offset":0.3462,"color":"#000"},{"offset":0.3542,"color":"#fff"},
{"offset":0.3766,"color":"#fff"},{"offset":0.3846,"color":"#000"},{"offset":0.3926,"color":"#fff"},
{"offset":0.4151,"color":"#fff"},{"offset":0.4231,"color":"#000"},{"offset":0.4311,"color":"#fff"},
{"offset":0.4535,"color":"#fff"},{"offset":0.4615,"color":"#000"},{"offset":0.4695,"color":"#fff"},
{"offset":0.492,"color":"#fff"},{"offset":0.5,"color":"#000"},{"offset":0.508,"color":"#fff"},
{"offset":0.5305,"color":"#fff"},{"offset":0.5385,"color":"#000"},{"offset":0.5465,"color":"#fff"},
{"offset":0.5689,"color":"#fff"},{"offset":0.5769,"color":"#000"},{"offset":0.5849,"color":"#fff"},
{"offset":0.6074,"color":"#fff"},{"offset":0.6154,"color":"#000"},{"offset":0.6234,"color":"#fff"},
{"offset":0.6458,"color":"#fff"},{"offset":0.6538,"color":"#000"},{"offset":0.6618,"color":"#fff"},
{"offset":0.6843,"color":"#fff"},{"offset":0.6923,"color":"#000"},{"offset":0.7003,"color":"#fff"},
{"offset":0.7228,"color":"#fff"},{"offset":0.7308,"color":"#000"},{"offset":0.7388,"color":"#fff"},
{"offset":0.7612,"color":"#fff"},{"offset":0.7692,"color":"#000"},{"offset":0.7772,"color":"#fff"},
{"offset":0.7997,"color":"#fff"},{"offset":0.8077,"color":"#000"},{"offset":0.8157,"color":"#fff"},
{"offset":0.8382,"color":"#fff"},{"offset":0.8462,"color":"#000"},{"offset":0.8542,"color":"#fff"},
{"offset":0.8766,"color":"#fff"},{"offset":0.8846,"color":"#000"},{"offset":0.8926,"color":"#fff"},
{"offset":0.9151,"color":"#fff"},{"offset":0.9231,"color":"#000"},{"offset":0.9311,"color":"#fff"},
{"offset":0.9535,"color":"#fff"},{"offset":0.9615,"color":"#000"},{"offset":0.9695,"color":"#fff"},
{"offset":1,"color":"#fff"}]}},
 "encoding":{
  "x":{"field":"x","type":"quantitative","scale":{"domain":[-1.89,1.5],"nice":false,"zero":false},"axis":{"orient":"bottom","values":[-1.8,-1.7,-1.6,-1.4,-1.3,-1.2,-1.1,-0.9,-0.8,-0.7,-0.6,-0.4,-0.3,-0.2,-0.1,0.1,0.2,0.3,0.4,0.6,0.7,0.8,0.9,1.1,1.2,1.3,1.4],"ticks":true,"tickSize":-6,"tickWidth":1.2,"labels":false,"domain":false,"title":null,"zindex":1}},
  "y":{"field":"y","type":"quantitative","scale":{"domain":[0,100],"nice":false,"zero":false},"axis":{"orient":"left","values":[2,4,6,8,12,14,16,18,22,24,26,28,32,34,36,38,42,44,46,48,52,54,56,58,62,64,66,68,72,74,76,78,82,84,86,88,92,94,96,98],"ticks":true,"tickSize":-5,"tickWidth":1.2,"labels":false,"domain":false,"title":null,"zindex":1}},
  "order":{"field":"i","type":"quantitative"}}},
{"data":{"name":"poly"},"transform":[{"filter":"datum.id == 'H3' || datum.id == 'HS'"}],
 "mark":{"type":"line","interpolate":"cardinal-closed","stroke":"#000","strokeWidth":1.3,"fill":{"gradient":"linear","x1":0,"y1":0,"x2":1.156,"y2":0.763,"stops":[
{"offset":0,"color":"#fff"},
{"offset":0.039,"color":"#fff"},{"offset":0.05,"color":"#000"},{"offset":0.061,"color":"#fff"},
{"offset":0.089,"color":"#fff"},{"offset":0.1,"color":"#000"},{"offset":0.111,"color":"#fff"},
{"offset":0.139,"color":"#fff"},{"offset":0.15,"color":"#000"},{"offset":0.161,"color":"#fff"},
{"offset":0.189,"color":"#fff"},{"offset":0.2,"color":"#000"},{"offset":0.211,"color":"#fff"},
{"offset":0.239,"color":"#fff"},{"offset":0.25,"color":"#000"},{"offset":0.261,"color":"#fff"},
{"offset":0.289,"color":"#fff"},{"offset":0.3,"color":"#000"},{"offset":0.311,"color":"#fff"},
{"offset":0.339,"color":"#fff"},{"offset":0.35,"color":"#000"},{"offset":0.361,"color":"#fff"},
{"offset":0.389,"color":"#fff"},{"offset":0.4,"color":"#000"},{"offset":0.411,"color":"#fff"},
{"offset":0.439,"color":"#fff"},{"offset":0.45,"color":"#000"},{"offset":0.461,"color":"#fff"},
{"offset":0.489,"color":"#fff"},{"offset":0.5,"color":"#000"},{"offset":0.511,"color":"#fff"},
{"offset":0.539,"color":"#fff"},{"offset":0.55,"color":"#000"},{"offset":0.561,"color":"#fff"},
{"offset":0.589,"color":"#fff"},{"offset":0.6,"color":"#000"},{"offset":0.611,"color":"#fff"},
{"offset":0.639,"color":"#fff"},{"offset":0.65,"color":"#000"},{"offset":0.661,"color":"#fff"},
{"offset":0.689,"color":"#fff"},{"offset":0.7,"color":"#000"},{"offset":0.711,"color":"#fff"},
{"offset":0.739,"color":"#fff"},{"offset":0.75,"color":"#000"},{"offset":0.761,"color":"#fff"},
{"offset":0.789,"color":"#fff"},{"offset":0.8,"color":"#000"},{"offset":0.811,"color":"#fff"},
{"offset":0.839,"color":"#fff"},{"offset":0.85,"color":"#000"},{"offset":0.861,"color":"#fff"},
{"offset":0.889,"color":"#fff"},{"offset":0.9,"color":"#000"},{"offset":0.911,"color":"#fff"},
{"offset":0.939,"color":"#fff"},{"offset":0.95,"color":"#000"},{"offset":0.961,"color":"#fff"},
{"offset":1,"color":"#fff"}]}},
 "encoding":{"detail":{"field":"id"},"order":{"field":"i","type":"quantitative"}}},
{"data":{"name":"poly"},"transform":[{"filter":"datum.id == 'H3' || datum.id == 'HS'"}],
 "mark":{"type":"line","interpolate":"cardinal-closed","stroke":"#000","strokeWidth":1.3,"fill":{"gradient":"linear","x1":0,"y1":1,"x2":1.156,"y2":0.237,"stops":[
{"offset":0,"color":"rgba(255,255,255,0)"},
{"offset":0.039,"color":"rgba(255,255,255,0)"},{"offset":0.039,"color":"#fff"},{"offset":0.061,"color":"#fff"},{"offset":0.061,"color":"rgba(255,255,255,0)"},
{"offset":0.089,"color":"rgba(255,255,255,0)"},{"offset":0.089,"color":"#fff"},{"offset":0.111,"color":"#fff"},{"offset":0.111,"color":"rgba(255,255,255,0)"},
{"offset":0.139,"color":"rgba(255,255,255,0)"},{"offset":0.139,"color":"#fff"},{"offset":0.161,"color":"#fff"},{"offset":0.161,"color":"rgba(255,255,255,0)"},
{"offset":0.189,"color":"rgba(255,255,255,0)"},{"offset":0.189,"color":"#fff"},{"offset":0.211,"color":"#fff"},{"offset":0.211,"color":"rgba(255,255,255,0)"},
{"offset":0.239,"color":"rgba(255,255,255,0)"},{"offset":0.239,"color":"#fff"},{"offset":0.261,"color":"#fff"},{"offset":0.261,"color":"rgba(255,255,255,0)"},
{"offset":0.289,"color":"rgba(255,255,255,0)"},{"offset":0.289,"color":"#fff"},{"offset":0.311,"color":"#fff"},{"offset":0.311,"color":"rgba(255,255,255,0)"},
{"offset":0.339,"color":"rgba(255,255,255,0)"},{"offset":0.339,"color":"#fff"},{"offset":0.361,"color":"#fff"},{"offset":0.361,"color":"rgba(255,255,255,0)"},
{"offset":0.389,"color":"rgba(255,255,255,0)"},{"offset":0.389,"color":"#fff"},{"offset":0.411,"color":"#fff"},{"offset":0.411,"color":"rgba(255,255,255,0)"},
{"offset":0.439,"color":"rgba(255,255,255,0)"},{"offset":0.439,"color":"#fff"},{"offset":0.461,"color":"#fff"},{"offset":0.461,"color":"rgba(255,255,255,0)"},
{"offset":0.489,"color":"rgba(255,255,255,0)"},{"offset":0.489,"color":"#fff"},{"offset":0.511,"color":"#fff"},{"offset":0.511,"color":"rgba(255,255,255,0)"},
{"offset":0.539,"color":"rgba(255,255,255,0)"},{"offset":0.539,"color":"#fff"},{"offset":0.561,"color":"#fff"},{"offset":0.561,"color":"rgba(255,255,255,0)"},
{"offset":0.589,"color":"rgba(255,255,255,0)"},{"offset":0.589,"color":"#fff"},{"offset":0.611,"color":"#fff"},{"offset":0.611,"color":"rgba(255,255,255,0)"},
{"offset":0.639,"color":"rgba(255,255,255,0)"},{"offset":0.639,"color":"#fff"},{"offset":0.661,"color":"#fff"},{"offset":0.661,"color":"rgba(255,255,255,0)"},
{"offset":0.689,"color":"rgba(255,255,255,0)"},{"offset":0.689,"color":"#fff"},{"offset":0.711,"color":"#fff"},{"offset":0.711,"color":"rgba(255,255,255,0)"},
{"offset":0.739,"color":"rgba(255,255,255,0)"},{"offset":0.739,"color":"#fff"},{"offset":0.761,"color":"#fff"},{"offset":0.761,"color":"rgba(255,255,255,0)"},
{"offset":0.789,"color":"rgba(255,255,255,0)"},{"offset":0.789,"color":"#fff"},{"offset":0.811,"color":"#fff"},{"offset":0.811,"color":"rgba(255,255,255,0)"},
{"offset":0.839,"color":"rgba(255,255,255,0)"},{"offset":0.839,"color":"#fff"},{"offset":0.861,"color":"#fff"},{"offset":0.861,"color":"rgba(255,255,255,0)"},
{"offset":0.889,"color":"rgba(255,255,255,0)"},{"offset":0.889,"color":"#fff"},{"offset":0.911,"color":"#fff"},{"offset":0.911,"color":"rgba(255,255,255,0)"},
{"offset":0.939,"color":"rgba(255,255,255,0)"},{"offset":0.939,"color":"#fff"},{"offset":0.961,"color":"#fff"},{"offset":0.961,"color":"rgba(255,255,255,0)"},
{"offset":1,"color":"rgba(255,255,255,0)"}]}},
 "encoding":{"detail":{"field":"id"},"order":{"field":"i","type":"quantitative"}}},
{"data":{"name":"poly"},"transform":[{"filter":"datum.id == 'V1' || datum.id == 'V2' || datum.id == 'V3'"}],
 "mark":{"type":"line","interpolate":"cardinal-closed","stroke":"#000","strokeWidth":1.3,"fill":{"gradient":"linear","x1":0,"y1":0,"x2":1,"y2":0,"stops":[
{"offset":0,"color":"#fff"},
{"offset":0.0567,"color":"#fff"},{"offset":0.0667,"color":"#000"},{"offset":0.0767,"color":"#fff"},
{"offset":0.1233,"color":"#fff"},{"offset":0.1333,"color":"#000"},{"offset":0.1433,"color":"#fff"},
{"offset":0.19,"color":"#fff"},{"offset":0.2,"color":"#000"},{"offset":0.21,"color":"#fff"},
{"offset":0.2567,"color":"#fff"},{"offset":0.2667,"color":"#000"},{"offset":0.2767,"color":"#fff"},
{"offset":0.3233,"color":"#fff"},{"offset":0.3333,"color":"#000"},{"offset":0.3433,"color":"#fff"},
{"offset":0.39,"color":"#fff"},{"offset":0.4,"color":"#000"},{"offset":0.41,"color":"#fff"},
{"offset":0.4567,"color":"#fff"},{"offset":0.4667,"color":"#000"},{"offset":0.4767,"color":"#fff"},
{"offset":0.5233,"color":"#fff"},{"offset":0.5333,"color":"#000"},{"offset":0.5433,"color":"#fff"},
{"offset":0.59,"color":"#fff"},{"offset":0.6,"color":"#000"},{"offset":0.61,"color":"#fff"},
{"offset":0.6567,"color":"#fff"},{"offset":0.6667,"color":"#000"},{"offset":0.6767,"color":"#fff"},
{"offset":0.7233,"color":"#fff"},{"offset":0.7333,"color":"#000"},{"offset":0.7433,"color":"#fff"},
{"offset":0.79,"color":"#fff"},{"offset":0.8,"color":"#000"},{"offset":0.81,"color":"#fff"},
{"offset":0.8567,"color":"#fff"},{"offset":0.8667,"color":"#000"},{"offset":0.8767,"color":"#fff"},
{"offset":0.9233,"color":"#fff"},{"offset":0.9333,"color":"#000"},{"offset":0.9433,"color":"#fff"},
{"offset":1,"color":"#fff"}]}},
 "encoding":{"detail":{"field":"id"},"order":{"field":"i","type":"quantitative"}}},
{"data":{"name":"poly"},"transform":[{"filter":"datum.id == 'V4'"}],
 "mark":{"type":"line","interpolate":"cardinal-closed","stroke":"#000","strokeWidth":1.3,"fill":{"gradient":"linear","x1":0,"y1":0,"x2":1,"y2":0,"stops":[
{"offset":0,"color":"#fff"},
{"offset":0.0295,"color":"#fff"},{"offset":0.0345,"color":"#000"},{"offset":0.0395,"color":"#fff"},
{"offset":0.064,"color":"#fff"},{"offset":0.069,"color":"#000"},{"offset":0.074,"color":"#fff"},
{"offset":0.0984,"color":"#fff"},{"offset":0.1034,"color":"#000"},{"offset":0.1084,"color":"#fff"},
{"offset":0.1329,"color":"#fff"},{"offset":0.1379,"color":"#000"},{"offset":0.1429,"color":"#fff"},
{"offset":0.1674,"color":"#fff"},{"offset":0.1724,"color":"#000"},{"offset":0.1774,"color":"#fff"},
{"offset":0.2019,"color":"#fff"},{"offset":0.2069,"color":"#000"},{"offset":0.2119,"color":"#fff"},
{"offset":0.2364,"color":"#fff"},{"offset":0.2414,"color":"#000"},{"offset":0.2464,"color":"#fff"},
{"offset":0.2709,"color":"#fff"},{"offset":0.2759,"color":"#000"},{"offset":0.2809,"color":"#fff"},
{"offset":0.3053,"color":"#fff"},{"offset":0.3103,"color":"#000"},{"offset":0.3153,"color":"#fff"},
{"offset":0.3398,"color":"#fff"},{"offset":0.3448,"color":"#000"},{"offset":0.3498,"color":"#fff"},
{"offset":0.3743,"color":"#fff"},{"offset":0.3793,"color":"#000"},{"offset":0.3843,"color":"#fff"},
{"offset":0.4088,"color":"#fff"},{"offset":0.4138,"color":"#000"},{"offset":0.4188,"color":"#fff"},
{"offset":0.4433,"color":"#fff"},{"offset":0.4483,"color":"#000"},{"offset":0.4533,"color":"#fff"},
{"offset":0.4778,"color":"#fff"},{"offset":0.4828,"color":"#000"},{"offset":0.4878,"color":"#fff"},
{"offset":0.5122,"color":"#fff"},{"offset":0.5172,"color":"#000"},{"offset":0.5222,"color":"#fff"},
{"offset":0.5467,"color":"#fff"},{"offset":0.5517,"color":"#000"},{"offset":0.5567,"color":"#fff"},
{"offset":0.5812,"color":"#fff"},{"offset":0.5862,"color":"#000"},{"offset":0.5912,"color":"#fff"},
{"offset":0.6157,"color":"#fff"},{"offset":0.6207,"color":"#000"},{"offset":0.6257,"color":"#fff"},
{"offset":0.6502,"color":"#fff"},{"offset":0.6552,"color":"#000"},{"offset":0.6602,"color":"#fff"},
{"offset":0.6847,"color":"#fff"},{"offset":0.6897,"color":"#000"},{"offset":0.6947,"color":"#fff"},
{"offset":0.7191,"color":"#fff"},{"offset":0.7241,"color":"#000"},{"offset":0.7291,"color":"#fff"},
{"offset":0.7536,"color":"#fff"},{"offset":0.7586,"color":"#000"},{"offset":0.7636,"color":"#fff"},
{"offset":0.7881,"color":"#fff"},{"offset":0.7931,"color":"#000"},{"offset":0.7981,"color":"#fff"},
{"offset":0.8226,"color":"#fff"},{"offset":0.8276,"color":"#000"},{"offset":0.8326,"color":"#fff"},
{"offset":0.8571,"color":"#fff"},{"offset":0.8621,"color":"#000"},{"offset":0.8671,"color":"#fff"},
{"offset":0.8916,"color":"#fff"},{"offset":0.8966,"color":"#000"},{"offset":0.9016,"color":"#fff"},
{"offset":0.926,"color":"#fff"},{"offset":0.931,"color":"#000"},{"offset":0.936,"color":"#fff"},
{"offset":0.9605,"color":"#fff"},{"offset":0.9655,"color":"#000"},{"offset":0.9705,"color":"#fff"},
{"offset":1,"color":"#fff"}]}},
 "encoding":{"order":{"field":"i","type":"quantitative"}}},
{"data":{"name":"poly"},"transform":[{"filter":"datum.id == 'LV'"}],
 "mark":{"type":"line","interpolate":"cardinal-closed","stroke":"#000","strokeWidth":1.3,"fill":{"gradient":"linear","x1":0,"y1":0,"x2":1,"y2":0,"stops":[
{"offset":0,"color":"#fff"},
{"offset":0.1437,"color":"#fff"},{"offset":0.1667,"color":"#000"},{"offset":0.1897,"color":"#fff"},
{"offset":0.3103,"color":"#fff"},{"offset":0.3333,"color":"#000"},{"offset":0.3563,"color":"#fff"},
{"offset":0.477,"color":"#fff"},{"offset":0.5,"color":"#000"},{"offset":0.523,"color":"#fff"},
{"offset":0.6437,"color":"#fff"},{"offset":0.6667,"color":"#000"},{"offset":0.6897,"color":"#fff"},
{"offset":0.8103,"color":"#fff"},{"offset":0.8333,"color":"#000"},{"offset":0.8563,"color":"#fff"},
{"offset":1,"color":"#fff"}]}},
 "encoding":{"order":{"field":"i","type":"quantitative"}}},
{"data":{"name":"poly"},"transform":[{"filter":"datum.id == 'LD'"}],
 "mark":{"type":"line","interpolate":"cardinal-closed","stroke":"#000","strokeWidth":1.3,"fill":{"gradient":"linear","x1":0,"y1":1,"x2":1.072,"y2":0.084,"stops":[
{"offset":0,"color":"#fff"},
{"offset":0.0653,"color":"#fff"},{"offset":0.0833,"color":"#000"},{"offset":0.1013,"color":"#fff"},
{"offset":0.1487,"color":"#fff"},{"offset":0.1667,"color":"#000"},{"offset":0.1847,"color":"#fff"},
{"offset":0.232,"color":"#fff"},{"offset":0.25,"color":"#000"},{"offset":0.268,"color":"#fff"},
{"offset":0.3153,"color":"#fff"},{"offset":0.3333,"color":"#000"},{"offset":0.3513,"color":"#fff"},
{"offset":0.3987,"color":"#fff"},{"offset":0.4167,"color":"#000"},{"offset":0.4347,"color":"#fff"},
{"offset":0.482,"color":"#fff"},{"offset":0.5,"color":"#000"},{"offset":0.518,"color":"#fff"},
{"offset":0.5653,"color":"#fff"},{"offset":0.5833,"color":"#000"},{"offset":0.6013,"color":"#fff"},
{"offset":0.6487,"color":"#fff"},{"offset":0.6667,"color":"#000"},{"offset":0.6847,"color":"#fff"},
{"offset":0.732,"color":"#fff"},{"offset":0.75,"color":"#000"},{"offset":0.768,"color":"#fff"},
{"offset":0.8153,"color":"#fff"},{"offset":0.8333,"color":"#000"},{"offset":0.8513,"color":"#fff"},
{"offset":0.8987,"color":"#fff"},{"offset":0.9167,"color":"#000"},{"offset":0.9347,"color":"#fff"},
{"offset":1,"color":"#fff"}]}},
 "encoding":{"order":{"field":"i","type":"quantitative"}}},
{"data":{"name":"poly"},"transform":[{"filter":"datum.id == 'LH'"}],
 "mark":{"type":"line","interpolate":"cardinal-closed","stroke":"#000","strokeWidth":1.3,"fill":{"gradient":"linear","x1":0,"y1":0,"x2":1.079,"y2":0.906,"stops":[
{"offset":0,"color":"#fff"},
{"offset":0.0709,"color":"#fff"},{"offset":0.0909,"color":"#000"},{"offset":0.1109,"color":"#fff"},
{"offset":0.1618,"color":"#fff"},{"offset":0.1818,"color":"#000"},{"offset":0.2018,"color":"#fff"},
{"offset":0.2527,"color":"#fff"},{"offset":0.2727,"color":"#000"},{"offset":0.2927,"color":"#fff"},
{"offset":0.3436,"color":"#fff"},{"offset":0.3636,"color":"#000"},{"offset":0.3836,"color":"#fff"},
{"offset":0.4345,"color":"#fff"},{"offset":0.4545,"color":"#000"},{"offset":0.4745,"color":"#fff"},
{"offset":0.5255,"color":"#fff"},{"offset":0.5455,"color":"#000"},{"offset":0.5655,"color":"#fff"},
{"offset":0.6164,"color":"#fff"},{"offset":0.6364,"color":"#000"},{"offset":0.6564,"color":"#fff"},
{"offset":0.7073,"color":"#fff"},{"offset":0.7273,"color":"#000"},{"offset":0.7473,"color":"#fff"},
{"offset":0.7982,"color":"#fff"},{"offset":0.8182,"color":"#000"},{"offset":0.8382,"color":"#fff"},
{"offset":0.8891,"color":"#fff"},{"offset":0.9091,"color":"#000"},{"offset":0.9291,"color":"#fff"},
{"offset":1,"color":"#fff"}]}},
 "encoding":{"order":{"field":"i","type":"quantitative"}}},
{"data":{"name":"poly"},"transform":[{"filter":"datum.id == 'LH'"}],
 "mark":{"type":"line","interpolate":"cardinal-closed","stroke":"#000","strokeWidth":1.3,"fill":{"gradient":"linear","x1":0,"y1":1,"x2":1.079,"y2":0.094,"stops":[
{"offset":0,"color":"rgba(255,255,255,0)"},
{"offset":0.0709,"color":"rgba(255,255,255,0)"},{"offset":0.0709,"color":"#fff"},{"offset":0.1109,"color":"#fff"},{"offset":0.1109,"color":"rgba(255,255,255,0)"},
{"offset":0.1618,"color":"rgba(255,255,255,0)"},{"offset":0.1618,"color":"#fff"},{"offset":0.2018,"color":"#fff"},{"offset":0.2018,"color":"rgba(255,255,255,0)"},
{"offset":0.2527,"color":"rgba(255,255,255,0)"},{"offset":0.2527,"color":"#fff"},{"offset":0.2927,"color":"#fff"},{"offset":0.2927,"color":"rgba(255,255,255,0)"},
{"offset":0.3436,"color":"rgba(255,255,255,0)"},{"offset":0.3436,"color":"#fff"},{"offset":0.3836,"color":"#fff"},{"offset":0.3836,"color":"rgba(255,255,255,0)"},
{"offset":0.4345,"color":"rgba(255,255,255,0)"},{"offset":0.4345,"color":"#fff"},{"offset":0.4745,"color":"#fff"},{"offset":0.4745,"color":"rgba(255,255,255,0)"},
{"offset":0.5255,"color":"rgba(255,255,255,0)"},{"offset":0.5255,"color":"#fff"},{"offset":0.5655,"color":"#fff"},{"offset":0.5655,"color":"rgba(255,255,255,0)"},
{"offset":0.6164,"color":"rgba(255,255,255,0)"},{"offset":0.6164,"color":"#fff"},{"offset":0.6564,"color":"#fff"},{"offset":0.6564,"color":"rgba(255,255,255,0)"},
{"offset":0.7073,"color":"rgba(255,255,255,0)"},{"offset":0.7073,"color":"#fff"},{"offset":0.7473,"color":"#fff"},{"offset":0.7473,"color":"rgba(255,255,255,0)"},
{"offset":0.7982,"color":"rgba(255,255,255,0)"},{"offset":0.7982,"color":"#fff"},{"offset":0.8382,"color":"#fff"},{"offset":0.8382,"color":"rgba(255,255,255,0)"},
{"offset":0.8891,"color":"rgba(255,255,255,0)"},{"offset":0.8891,"color":"#fff"},{"offset":0.9291,"color":"#fff"},{"offset":0.9291,"color":"rgba(255,255,255,0)"},
{"offset":1,"color":"rgba(255,255,255,0)"}]}},
 "encoding":{"order":{"field":"i","type":"quantitative"}}},
{"data":{"name":"seg"},
 "mark":{"type":"rule","stroke":"#000","strokeWidth":1.2},
 "encoding":{"x2":{"field":"x2"},"y2":{"field":"y2"}}},
{"data":{"name":"txt"},
 "mark":{"type":"text","align":"left","baseline":"alphabetic","font":"DejaVu Sans","fontWeight":"bold","fontSize":15,"color":"#000"},
 "encoding":{"text":{"field":"t","type":"nominal"}}}
],
"resolve": {"axis": {"x": "independent", "y": "independent"}}
}
